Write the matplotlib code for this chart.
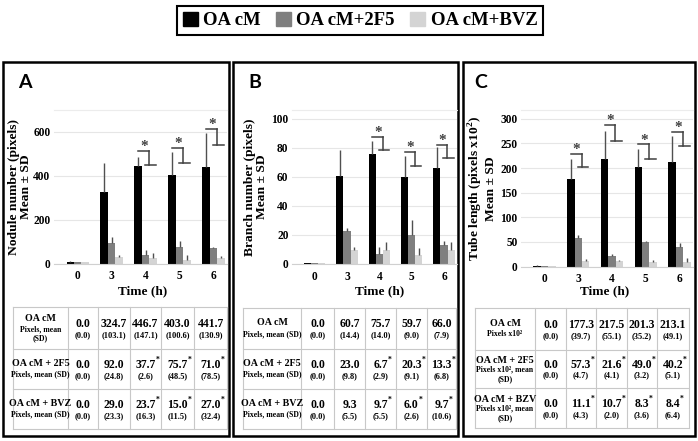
import matplotlib.pyplot as plt
from matplotlib.patches import Patch, Rectangle

plt.rcParams['font.family'] = ['Liberation Serif', 'DejaVu Serif']
plt.rcParams['font.weight'] = 'bold'

times = ['0', '3', '4', '5', '6']
groups = ['OA cM', 'OA cM+2F5', 'OA cM+BVZ']
colors = ['#000000', '#7f7f7f', '#d4d4d4']

# A - nodule number (table values; the 0 h bars sit a little above zero in the chart)
nod_mean = [[0.0, 324.7, 446.7, 403.0, 441.7],
            [0.0, 92.0, 37.7, 75.7, 71.0],
            [0.0, 29.0, 23.7, 15.0, 27.0]]
nod_sd = [[0.0, 103.1, 147.1, 100.6, 130.9],
          [0.0, 24.8, 2.6, 48.5, 78.5],
          [0.0, 23.3, 16.3, 11.5, 32.4]]
nod_zero = [8, 6, 5]
nod_err = [[2, 132, 41, 107, 152],
           [1, 29, 22, 26, 3],
           [1, 9, 22, 23, 5]]
nod_sig = [2, 3, 4]
nod_brk = [(515, 451), (528, 460), (615, 542)]

# B - branch number
br_mean = [[0.0, 60.7, 75.7, 59.7, 66.0],
           [0.0, 23.0, 6.7, 20.3, 13.3],
           [0.0, 9.3, 9.7, 6.0, 9.7]]
br_sd = [[0.0, 14.4, 14.0, 9.0, 7.9],
         [0.0, 9.8, 2.9, 9.1, 6.8],
         [0.0, 5.5, 5.5, 2.6, 10.6]]
br_zero = [0.8, 0.6, 0.5]
br_err = [[0.2, 18, 9, 14.5, 14.5],
          [0.1, 1.5, 4.8, 9.7, 2.7],
          [0.1, 2.2, 5.3, 4.8, 5.3]]
br_sig = [2, 3, 4]
br_brk = [(87.5, 78.3), (77, 67.3), (82.2, 73)]

# C - tube length
tl_mean = [[0.0, 177.3, 217.5, 201.3, 213.1],
           [0.0, 57.3, 21.6, 49.0, 40.2],
           [0.0, 11.1, 10.7, 8.3, 8.4]]
tl_sd = [[0.0, 39.7, 55.1, 35.2, 49.1],
         [0.0, 4.7, 4.1, 3.2, 5.1],
         [0.0, 4.3, 2.0, 3.6, 6.4]]
tl_zero = [2, 1.5, 1]
tl_err = [[0.5, 42, 57, 38, 52],
          [0.5, 6, 4, 3, 7],
          [0.3, 4, 2, 5, 9]]
tl_sig = [1, 2, 3, 4]
tl_brk = [(229, 202), (288, 256), (248, 219), (273, 244)]

panels = [
    dict(letter='A', mean=nod_mean, sd=nod_sd, zero=nod_zero, err=nod_err, sig=nod_sig, brk=nod_brk,
         ylabel='Nodule number (pixels)\nMean \u00b1 SD', ylim=700, yticks=[0, 200, 400, 600],
         titles=['OA cM', 'OA cM + 2F5', 'OA cM + BVZ'],
         subs=['Pixels, mean\n(SD)', 'Pixels, mean (SD)', 'Pixels, mean (SD)'],
         box=(3, 229), ax=(54, 110, 227, 263.5), ylab_x=32, xlab_x=143, letter_x=25,
         cols=[13, 68, 98, 130, 161, 194, 227], rows=[307, 349, 389, 429]),
    dict(letter='B', mean=br_mean, sd=br_sd, zero=br_zero, err=br_err, sig=br_sig, brk=br_brk,
         ylabel='Branch number (pixels)\nMean \u00b1 SD', ylim=106, yticks=[0, 20, 40, 60, 80, 100],
         titles=['OA cM', 'OA cM + 2F5', 'OA cM + BVZ'],
         subs=['Pixels, mean (SD)', 'Pixels, mean (SD)', 'Pixels, mean (SD)'],
         box=(233, 458), ax=(292, 110, 457, 264), ylab_x=268, xlab_x=380, letter_x=255,
         cols=[243, 301, 334, 365, 396, 427, 456], rows=[308, 349, 389, 429]),
    dict(letter='C', mean=tl_mean, sd=tl_sd, zero=tl_zero, err=tl_err, sig=tl_sig, brk=tl_brk,
         ylabel='Tube length (pixels x10$^{\\mathbf{2}}$)\nMean \u00b1 SD', ylim=318,
         yticks=[0, 50, 100, 150, 200, 250, 300],
         titles=['OA cM', 'OA cM + 2F5', 'OA cM + BZV'],
         subs=['Pixels x10\u00b2', 'Pixels x10\u00b2, mean\n(SD)', 'Pixels x10\u00b2, mean\n(SD)'],
         box=(463, 695), ax=(521, 110, 693, 266.5), ylab_x=497, xlab_x=605, letter_x=481,
         cols=[475, 535, 566, 596, 627, 657, 689], rows=[308, 350, 388, 428]),
]

W, H = 698, 441
fig = plt.figure(figsize=(W / 100, H / 100), dpi=100)
plt.rcParams['mathtext.fontset'] = 'custom'
plt.rcParams['mathtext.rm'] = 'Liberation Serif:bold'
plt.rcParams['mathtext.bf'] = 'Liberation Serif:bold'

ov = fig.add_axes([0, 0, 1, 1], zorder=0)
ov.set_xlim(0, W)
ov.set_ylim(H, 0)
ov.axis('off')

line_c = '#c8c8c8'
bw = 0.22
for p in panels:
    # panel frame and letter
    x0, x1 = p['box']
    ov.add_patch(Rectangle((x0, 62), x1 - x0, 374, fill=False, ec='black', lw=1.8))
    ov.text(p['letter_x'], 82, p['letter'], family='Lato', fontsize=14, fontweight='bold',
            ha='center', va='center')

    l, t, r, b = p['ax']
    ax = fig.add_axes([l / W, 1 - b / H, (r - l) / W, (b - t) / H], zorder=2)
    ax.patch.set_alpha(0)
    x = list(range(len(times)))
    for g in range(3):
        heights = [p['zero'][g]] + p['mean'][g][1:]
        ax.bar([xi + (g - 1) * bw for xi in x], heights, bw, color=colors[g],
               yerr=[[0] * len(x), p['err'][g]],
               error_kw=dict(ecolor='#505050', elinewidth=1, capsize=0))
    ax.set_xlim(-0.7, 4.4)
    ax.set_ylim(0, p['ylim'])
    ax.set_yticks(p['yticks'])
    ax.set_xticks(x)
    ax.set_xticklabels(times)
    ax.tick_params(length=0, labelsize=8.3)
    ax.tick_params(axis='x', pad=5)
    ax.tick_params(axis='y', pad=2.5)
    ax.yaxis.grid(True, color='#e6e6e6', lw=0.8)
    ax.set_axisbelow(True)
    for s in ['left', 'right']:
        ax.spines[s].set_visible(False)
    ax.spines['top'].set_color('#ececec')
    ax.spines['bottom'].set_color('#d0d0d0')
    ax.set_ylabel(p['ylabel'], fontsize=9.7, fontweight='bold', linespacing=1.0)
    ax.yaxis.set_label_coords((p['ylab_x'] - l) / (r - l), 0.5)
    ax.set_xlabel('Time (h)', fontsize=9.5, fontweight='bold')
    ax.xaxis.set_label_coords((p['xlab_x'] - l) / (r - l), -(285 - b) / (b - t))

    # significance brackets
    for c, (top, foot) in zip(p['sig'], p['brk']):
        kw = dict(color='#404040', lw=1.1, clip_on=False)
        ax.plot([c - 0.22, c + 0.1], [top, top], **kw)
        ax.plot([c + 0.1, c + 0.1], [top, foot], **kw)
        ax.plot([c - 0.02, c + 0.3], [foot, foot], **kw)
        ax.annotate('*', (c - 0.05, top), xytext=(0, 3), textcoords='offset points',
                    ha='center', va='center', fontsize=11, color='#404040')

    # data table under the chart
    cols, rows = p['cols'], p['rows']
    for xc in cols:
        ov.plot([xc, xc], [rows[0], rows[-1]], color=line_c, lw=0.8)
    for yr in rows:
        ov.plot([cols[0], cols[-1]], [yr, yr], color=line_c, lw=0.8)
    cx = (cols[0] + cols[1]) / 2
    for ri in range(3):
        top, bot = rows[ri], rows[ri + 1]
        h = bot - top
        two = '\n' in p['subs'][ri]
        ov.text(cx, top + (0.28 if two else 0.36) * h, p['titles'][ri], fontsize=7.2,
                ha='center', va='center')
        ov.text(cx, top + (0.64 if two else 0.63) * h, p['subs'][ri], fontsize=5.6,
                ha='center', va='center', linespacing=1.25)
        for ci in range(5):
            xm = (cols[ci + 1] + cols[ci + 2]) / 2
            txt = f"{p['mean'][ri][ci]:.1f}"
            ov.text(xm, top + 0.4 * h, txt, fontsize=8.5, ha='center', va='center')
            ov.text(xm, top + 0.67 * h, f"({p['sd'][ri][ci]:.1f})", fontsize=6,
                    ha='center', va='center')
            if ri > 0 and ci in p['sig']:
                half = (sum(0.25 if ch == '.' else 0.5 for ch in txt)) * 11.8 / 2
                ov.text(xm + half + 1.5, top + 0.4 * h - 5, '*', fontsize=5.5,
                        ha='center', va='center')

handles = [Patch(facecolor=c, edgecolor=c) for c in colors]
leg = fig.legend(handles, groups, loc='center', bbox_to_anchor=(360 / W, 1 - 20.5 / H), ncol=3,
                 prop=dict(family='Liberation Serif', weight='bold', size=13.5),
                 handlelength=0.8, handleheight=0.8, handletextpad=0.3, columnspacing=0.8,
                 borderpad=0.3, fancybox=False, edgecolor='black', framealpha=1)
leg.get_frame().set_linewidth(1.5)

fig.savefig('out.png', dpi=100)
